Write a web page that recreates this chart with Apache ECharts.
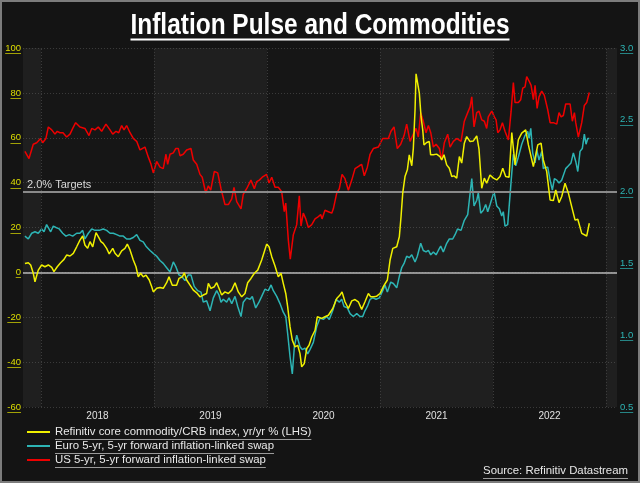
<!DOCTYPE html>
<html><head><meta charset="utf-8">
<script src="https://cdn.jsdelivr.net/npm/echarts@6.0.0/dist/echarts.min.js"></script>
<style>html,body{margin:0;padding:0;background:#141414;}#c{width:640px;height:483px;}</style>
</head><body><div id="c"></div>
<script>
// ---- data (decimal year, value) ----
const yearLabelPos = [2018.5, 2019.5, 2020.5, 2021.5, 2022.5];
const yearBounds = [2018, 2019, 2020, 2021, 2022, 2023];
const shadedYears = [[2017.841, 2018], [2019, 2020], [2021, 2022], [2023, 2023.097]];
const leftTicks = [100, 80, 60, 40, 20, 0, -20, -40, -60];
const rightTicks = [3.0, 2.5, 2.0, 1.5, 1.0, 0.5];
const targetLevel = 2.0;
const seriesNames = ['Refinitiv core commodity/CRB index, yr/yr % (LHS)', 'Euro 5-yr, 5-yr forward inflation-linked swap', 'US 5-yr, 5-yr forward inflation-linked swap'];

const crb = [[2017.858,4.0],[2017.888,4.3],[2017.909,3.3],[2017.932,-0.4],[2017.947,-4.2],[2017.962,-3.4],[2017.976,1.0],[2018.006,3.3],[2018.035,2.5],[2018.065,3.3],[2018.095,2.2],[2018.115,0.3],[2018.144,2.5],[2018.174,4.3],[2018.204,5.8],[2018.227,7.7],[2018.257,7.3],[2018.286,8.5],[2018.316,11.4],[2018.345,14.4],[2018.369,16.2],[2018.389,12.2],[2018.413,10.7],[2018.434,13.7],[2018.458,11.4],[2018.487,17.7],[2018.507,15.9],[2018.531,13.7],[2018.551,12.9],[2018.581,10.7],[2018.604,8.2],[2018.635,10.7],[2018.655,8.5],[2018.684,7.0],[2018.714,9.6],[2018.743,10.7],[2018.764,12.6],[2018.788,10.0],[2018.817,5.5],[2018.841,2.5],[2018.861,-2.0],[2018.882,-0.4],[2018.905,-2.0],[2018.929,-1.2],[2018.958,-3.4],[2018.980,-6.4],[2018.994,-8.7],[2019.024,-7.1],[2019.053,-6.7],[2019.082,-7.1],[2019.112,-4.6],[2019.133,-2.0],[2019.162,-5.7],[2019.200,-5.7],[2019.221,-2.7],[2019.251,-2.0],[2019.268,-0.2],[2019.289,-3.4],[2019.319,-5.7],[2019.348,-7.9],[2019.378,-9.1],[2019.407,-10.9],[2019.436,-10.1],[2019.466,-9.4],[2019.481,-4.9],[2019.504,-7.1],[2019.534,-6.4],[2019.555,-4.6],[2019.575,-7.1],[2019.599,-10.1],[2019.628,-8.7],[2019.658,-9.4],[2019.688,-7.9],[2019.717,-4.6],[2019.746,-8.7],[2019.776,-10.9],[2019.805,-9.4],[2019.829,-4.6],[2019.858,-2.7],[2019.888,-0.4],[2019.918,1.0],[2019.953,5.5],[2019.976,9.2],[2019.997,12.6],[2020.018,11.4],[2020.042,7.0],[2020.071,2.8],[2020.100,-2.0],[2020.124,-0.4],[2020.144,-4.9],[2020.166,-9.4],[2020.183,-15.4],[2020.204,-24.3],[2020.224,-30.2],[2020.248,-33.2],[2020.272,-32.5],[2020.292,-36.2],[2020.307,-42.1],[2020.330,-40.6],[2020.352,-33.9],[2020.372,-32.5],[2020.396,-28.8],[2020.425,-25.8],[2020.445,-19.8],[2020.484,-20.5],[2020.513,-19.8],[2020.543,-19.1],[2020.582,-16.1],[2020.617,-11.6],[2020.646,-10.1],[2020.664,-8.7],[2020.690,-13.1],[2020.720,-16.1],[2020.750,-12.7],[2020.779,-12.1],[2020.808,-13.1],[2020.838,-16.5],[2020.867,-13.1],[2020.897,-9.4],[2020.918,-10.9],[2020.947,-10.9],[2020.971,-10.6],[2021.000,-9.4],[2021.029,-6.4],[2021.065,-3.4],[2021.089,5.5],[2021.113,10.7],[2021.148,11.4],[2021.171,15.9],[2021.186,24.8],[2021.201,35.3],[2021.221,42.7],[2021.242,45.7],[2021.259,52.4],[2021.281,47.5],[2021.295,55.4],[2021.310,72.5],[2021.319,88.5],[2021.330,88.1],[2021.348,79.9],[2021.363,69.5],[2021.378,63.5],[2021.389,56.8],[2021.413,57.9],[2021.436,58.3],[2021.448,52.4],[2021.472,52.4],[2021.501,52.7],[2021.531,51.6],[2021.546,50.1],[2021.566,52.4],[2021.590,47.9],[2021.613,46.4],[2021.635,42.7],[2021.655,43.0],[2021.679,42.0],[2021.702,51.6],[2021.723,48.7],[2021.746,57.6],[2021.767,60.5],[2021.797,58.3],[2021.826,58.6],[2021.856,60.8],[2021.876,54.9],[2021.900,37.5],[2021.923,42.0],[2021.944,39.7],[2021.973,43.4],[2022.003,42.0],[2022.033,41.2],[2022.062,42.7],[2022.086,46.4],[2022.112,42.7],[2022.142,42.4],[2022.166,62.3],[2022.195,47.9],[2022.224,59.1],[2022.254,62.1],[2022.289,63.5],[2022.313,56.8],[2022.357,47.1],[2022.396,56.8],[2022.425,57.6],[2022.445,50.1],[2022.475,44.9],[2022.505,32.3],[2022.534,32.0],[2022.555,36.7],[2022.584,31.1],[2022.608,33.8],[2022.637,39.7],[2022.667,35.3],[2022.690,30.5],[2022.726,23.3],[2022.750,23.7],[2022.785,17.4],[2022.829,16.2],[2022.852,21.9]];

const euro = [[2017.858,1.69],[2017.888,1.67],[2017.918,1.71],[2017.947,1.72],[2017.976,1.71],[2018.006,1.74],[2018.027,1.72],[2018.050,1.77],[2018.065,1.76],[2018.086,1.72],[2018.109,1.76],[2018.133,1.75],[2018.162,1.74],[2018.192,1.71],[2018.221,1.69],[2018.250,1.70],[2018.281,1.69],[2018.316,1.71],[2018.345,1.71],[2018.369,1.73],[2018.389,1.67],[2018.419,1.71],[2018.449,1.74],[2018.478,1.73],[2018.516,1.73],[2018.551,1.74],[2018.581,1.73],[2018.611,1.71],[2018.640,1.71],[2018.670,1.70],[2018.699,1.69],[2018.728,1.69],[2018.758,1.67],[2018.788,1.67],[2018.817,1.68],[2018.847,1.70],[2018.876,1.66],[2018.905,1.65],[2018.929,1.62],[2018.965,1.59],[2018.994,1.57],[2019.024,1.55],[2019.053,1.52],[2019.082,1.50],[2019.112,1.47],[2019.142,1.44],[2019.171,1.51],[2019.192,1.48],[2019.221,1.42],[2019.245,1.41],[2019.274,1.38],[2019.304,1.42],[2019.327,1.42],[2019.356,1.34],[2019.387,1.31],[2019.416,1.30],[2019.436,1.23],[2019.466,1.24],[2019.496,1.17],[2019.525,1.26],[2019.555,1.31],[2019.575,1.28],[2019.593,1.23],[2019.613,1.25],[2019.643,1.23],[2019.664,1.26],[2019.688,1.22],[2019.717,1.27],[2019.741,1.20],[2019.770,1.13],[2019.790,1.23],[2019.820,1.26],[2019.850,1.25],[2019.870,1.27],[2019.900,1.19],[2019.929,1.23],[2019.953,1.27],[2019.982,1.32],[2020.012,1.31],[2020.036,1.35],[2020.056,1.31],[2020.086,1.27],[2020.115,1.22],[2020.144,1.16],[2020.166,1.13],[2020.183,1.01],[2020.204,0.85],[2020.224,0.73],[2020.242,0.92],[2020.263,1.00],[2020.277,1.01],[2020.292,0.92],[2020.312,0.90],[2020.336,0.91],[2020.360,0.87],[2020.380,0.90],[2020.410,0.95],[2020.440,1.06],[2020.469,1.12],[2020.499,1.11],[2020.529,1.13],[2020.551,1.11],[2020.581,1.17],[2020.611,1.25],[2020.640,1.23],[2020.661,1.25],[2020.682,1.20],[2020.711,1.19],[2020.735,1.15],[2020.764,1.13],[2020.794,1.15],[2020.823,1.13],[2020.847,1.13],[2020.867,1.17],[2020.888,1.20],[2020.912,1.25],[2020.935,1.26],[2020.965,1.25],[2020.994,1.26],[2021.024,1.31],[2021.044,1.35],[2021.065,1.30],[2021.095,1.37],[2021.118,1.36],[2021.148,1.33],[2021.171,1.41],[2021.192,1.47],[2021.213,1.50],[2021.236,1.55],[2021.259,1.54],[2021.281,1.56],[2021.310,1.51],[2021.330,1.55],[2021.360,1.64],[2021.383,1.59],[2021.407,1.58],[2021.428,1.59],[2021.449,1.56],[2021.472,1.58],[2021.496,1.56],[2021.516,1.59],[2021.537,1.62],[2021.560,1.58],[2021.590,1.64],[2021.613,1.67],[2021.643,1.67],[2021.664,1.70],[2021.686,1.74],[2021.717,1.73],[2021.746,1.80],[2021.776,1.84],[2021.790,1.85],[2021.812,2.09],[2021.832,1.90],[2021.856,1.94],[2021.870,1.99],[2021.891,1.85],[2021.914,1.87],[2021.935,1.91],[2021.953,1.86],[2021.974,1.91],[2021.989,1.92],[2022.009,2.00],[2022.033,1.90],[2022.056,1.88],[2022.077,1.83],[2022.091,1.86],[2022.106,1.76],[2022.130,1.77],[2022.144,1.77],[2022.166,2.13],[2022.180,2.26],[2022.201,2.18],[2022.224,2.24],[2022.254,2.33],[2022.283,2.39],[2022.307,2.42],[2022.319,2.37],[2022.334,2.44],[2022.351,2.27],[2022.372,2.20],[2022.387,2.29],[2022.407,2.22],[2022.431,2.28],[2022.445,2.16],[2022.466,2.17],[2022.484,2.17],[2022.505,2.08],[2022.525,2.01],[2022.543,2.09],[2022.564,2.08],[2022.584,2.06],[2022.608,2.08],[2022.622,2.09],[2022.643,2.16],[2022.667,2.18],[2022.690,2.20],[2022.711,2.27],[2022.732,2.21],[2022.750,2.14],[2022.770,2.28],[2022.790,2.30],[2022.808,2.40],[2022.823,2.33],[2022.838,2.37],[2022.852,2.37]];

const us = [[2017.858,2.28],[2017.894,2.23],[2017.932,2.33],[2017.962,2.34],[2017.997,2.37],[2018.015,2.34],[2018.044,2.37],[2018.065,2.45],[2018.095,2.43],[2018.124,2.40],[2018.144,2.42],[2018.168,2.41],[2018.195,2.41],[2018.227,2.38],[2018.257,2.40],[2018.281,2.44],[2018.307,2.48],[2018.345,2.45],[2018.389,2.44],[2018.425,2.39],[2018.449,2.44],[2018.478,2.43],[2018.507,2.45],[2018.537,2.42],[2018.575,2.47],[2018.611,2.43],[2018.635,2.40],[2018.664,2.42],[2018.688,2.41],[2018.714,2.46],[2018.735,2.43],[2018.758,2.46],[2018.788,2.41],[2018.817,2.37],[2018.847,2.35],[2018.876,2.29],[2018.920,2.31],[2018.950,2.24],[2018.974,2.19],[2018.994,2.13],[2019.024,2.21],[2019.053,2.17],[2019.082,2.16],[2019.106,2.26],[2019.121,2.19],[2019.142,2.26],[2019.171,2.27],[2019.192,2.30],[2019.215,2.30],[2019.230,2.25],[2019.259,2.26],[2019.289,2.29],[2019.327,2.30],[2019.348,2.22],[2019.378,2.19],[2019.407,2.12],[2019.427,2.10],[2019.458,1.99],[2019.481,2.04],[2019.502,2.01],[2019.534,2.14],[2019.564,2.13],[2019.593,2.02],[2019.628,1.91],[2019.658,1.91],[2019.688,1.95],[2019.708,2.03],[2019.732,1.93],[2019.770,1.88],[2019.790,1.98],[2019.820,2.02],[2019.858,2.08],[2019.888,2.02],[2019.909,2.07],[2019.932,2.08],[2019.958,2.10],[2019.997,2.12],[2020.018,2.06],[2020.042,2.10],[2020.071,2.03],[2020.100,2.03],[2020.130,2.00],[2020.153,1.86],[2020.166,1.92],[2020.189,1.66],[2020.206,1.53],[2020.233,1.70],[2020.263,1.77],[2020.286,1.97],[2020.301,1.76],[2020.321,1.85],[2020.343,1.81],[2020.366,1.75],[2020.396,1.77],[2020.425,1.81],[2020.445,1.82],[2020.475,1.84],[2020.487,1.81],[2020.513,1.87],[2020.543,1.86],[2020.573,1.85],[2020.587,1.88],[2020.617,1.99],[2020.640,2.02],[2020.664,2.12],[2020.690,2.09],[2020.720,2.01],[2020.750,2.08],[2020.779,2.16],[2020.817,2.18],[2020.838,2.19],[2020.861,2.11],[2020.888,2.17],[2020.912,2.26],[2020.941,2.30],[2020.985,2.31],[2021.024,2.37],[2021.074,2.37],[2021.097,2.42],[2021.124,2.45],[2021.153,2.30],[2021.183,2.33],[2021.213,2.39],[2021.236,2.47],[2021.266,2.35],[2021.295,2.40],[2021.319,2.44],[2021.339,2.38],[2021.360,2.55],[2021.383,2.49],[2021.407,2.41],[2021.428,2.46],[2021.449,2.41],[2021.472,2.31],[2021.496,2.33],[2021.525,2.30],[2021.546,2.22],[2021.569,2.34],[2021.599,2.40],[2021.620,2.31],[2021.649,2.35],[2021.679,2.37],[2021.717,2.35],[2021.746,2.49],[2021.776,2.55],[2021.797,2.59],[2021.812,2.66],[2021.832,2.45],[2021.856,2.55],[2021.876,2.56],[2021.900,2.50],[2021.923,2.49],[2021.944,2.44],[2021.958,2.52],[2021.989,2.56],[2022.012,2.52],[2022.027,2.50],[2022.042,2.41],[2022.062,2.43],[2022.083,2.48],[2022.106,2.42],[2022.136,2.36],[2022.160,2.56],[2022.180,2.76],[2022.195,2.62],[2022.224,2.62],[2022.245,2.64],[2022.263,2.72],[2022.283,2.73],[2022.298,2.80],[2022.319,2.77],[2022.337,2.74],[2022.357,2.64],[2022.372,2.74],[2022.390,2.58],[2022.407,2.66],[2022.431,2.70],[2022.454,2.67],[2022.484,2.57],[2022.505,2.48],[2022.534,2.48],[2022.564,2.47],[2022.584,2.55],[2022.602,2.52],[2022.622,2.53],[2022.643,2.61],[2022.682,2.61],[2022.702,2.49],[2022.720,2.55],[2022.732,2.48],[2022.755,2.38],[2022.785,2.48],[2022.808,2.60],[2022.829,2.62],[2022.852,2.69]];

// ---- styling ----
const SANS = '"Liberation Sans",Arial,sans-serif';
const C_Y = '#f0f000', C_T = '#2db4b4', C_R = '#ee0000';
const C_YL = '#dede00';
const ctx = document.createElement('canvas').getContext('2d');
function tw(font, t) { ctx.font = font; return ctx.measureText(t).width; }

const titleText = 'Inflation Pulse and Commodities';
const titleFont = 'bold 29px ' + SANS;
const titleScale = 379 / tw(titleFont, titleText);
const legSize = 11.4;
const legFont = legSize + 'px ' + SANS;
const sourceText = 'Source: Refinitiv Datastream';
const srcFont = '11.4px ' + SANS;
const sourceW = tw(srcFont, sourceText);
const axFont = '9.5px ' + SANS;

const legendRows = [432, 446, 460];
const graphics = [
  { type: 'rect', shape: { x: 1, y: 1, width: 638, height: 481 }, style: { fill: 'none', stroke: '#7c7c7c', lineWidth: 2 }, silent: true, z: 100 },
  { type: 'text', x: 320, y: 26, scaleX: titleScale, style: { text: titleText, x: 0, y: 0, align: 'center', verticalAlign: 'middle', fill: '#ffffff', font: titleFont }, silent: true },
  { type: 'line', shape: { x1: 130.5, y1: 39.5, x2: 509.5, y2: 39.5 }, style: { stroke: '#ffffff', lineWidth: 2 }, silent: true },
  { type: 'text', style: { text: sourceText, x: 628, y: 471, align: 'right', verticalAlign: 'middle', fill: '#e8e8e8', font: srcFont }, silent: true },
  { type: 'line', shape: { x1: 628 - sourceW, y1: 478.5, x2: 628, y2: 478.5 }, style: { stroke: '#9a9a9a', lineWidth: 1 }, silent: true }
];
seriesNames.forEach((n, i) => {
  const w = tw(legFont, n);
  graphics.push({ type: 'line', shape: { x1: 55, y1: legendRows[i] + 7.5, x2: 55 + w, y2: legendRows[i] + 7.5 }, style: { stroke: '#9a9a9a', lineWidth: 1 }, silent: true });
});

const chart = echarts.init(document.getElementById('c'), null, { renderer: 'canvas' });
chart.setOption({
  backgroundColor: '#141414',
  animation: false,
  grid: { left: 23, right: 23, top: 48, bottom: 76, show: true, backgroundColor: '#161616', borderWidth: 0 },
  legend: {
    data: seriesNames, orient: 'vertical', left: 27, top: 425, itemGap: 0, padding: 0,
    icon: 'rect', itemWidth: 23, itemHeight: 2, selectedMode: false,
    textStyle: { color: '#e8e8e8', fontSize: legSize, fontFamily: SANS, lineHeight: 14 }
  },
  xAxis: {
    type: 'value', min: 2017.841, max: 2023.097,
    axisLine: { show: false }, axisTick: { show: false }, splitLine: { show: false },
    axisLabel: { customValues: yearLabelPos, formatter: v => String(Math.floor(v)), color: '#e0e0e0', fontSize: 10, fontFamily: SANS, margin: 4 }
  },
  yAxis: [
    { type: 'value', min: -60, max: 100, interval: 20, position: 'left',
      axisLine: { show: false }, axisTick: { show: false },
      splitLine: { show: true, lineStyle: { color: '#3a3a3a', type: [1, 2], width: 1 } },
      axisLabel: { color: C_YL, fontSize: 9.5, fontFamily: SANS, margin: 2 } },
    { type: 'value', min: 0.5, max: 3.0, interval: 0.5, position: 'right',
      axisLine: { show: false }, axisTick: { show: false }, splitLine: { show: false },
      axisLabel: { color: C_T, fontSize: 9.5, fontFamily: SANS, margin: 3, formatter: v => v.toFixed(1) } }
  ],
  graphic: graphics,
  series: [
    { name: seriesNames[2], type: 'line', yAxisIndex: 1, data: us, showSymbol: false, lineStyle: { color: C_R, width: 1.5 }, itemStyle: { color: C_R }, emphasis: { disabled: true }, z: 3,
      markArea: { silent: true, itemStyle: { color: 'rgba(255,255,255,0.04)' }, data: shadedYears.map(p => [{ xAxis: p[0] }, { xAxis: p[1] }]) },
      markLine: { silent: true, symbol: 'none', label: { show: false }, lineStyle: { color: '#3c3c3c', type: [1, 2], width: 1 }, data: yearBounds.map(y => ({ xAxis: y })) } },
    { name: seriesNames[1], type: 'line', yAxisIndex: 1, data: euro, showSymbol: false, lineStyle: { color: C_T, width: 1.5 }, itemStyle: { color: C_T }, emphasis: { disabled: true }, z: 4,
      markLine: { silent: true, symbol: 'none', lineStyle: { color: '#8a8a8a', type: 'solid', width: 2 },
        label: { show: true, position: 'insideStartTop', formatter: '2.0% Targets', color: '#d8d8d8', fontSize: 11, fontFamily: SANS, distance: [4, 1] },
        data: [{ yAxis: targetLevel }] } },
    { name: seriesNames[0], type: 'line', yAxisIndex: 0, data: crb, showSymbol: false, lineStyle: { color: C_Y, width: 1.5 }, itemStyle: { color: C_Y }, emphasis: { disabled: true }, z: 5,
      markLine: { silent: true, symbol: 'none', label: { show: false }, lineStyle: { color: '#b8b8b8', type: 'solid', width: 1.5 }, data: [{ yAxis: 0 }] } }
  ]
});

// underline the axis tick labels, positioned through the chart's own scales
const extra = [];
leftTicks.forEach(v => {
  const py = chart.convertToPixel({ yAxisIndex: 0 }, v);
  const w = tw(axFont, String(v));
  extra.push({ type: 'line', shape: { x1: 21 - w, y1: Math.round(py) + 5.5, x2: 21, y2: Math.round(py) + 5.5 }, style: { stroke: C_YL, lineWidth: 1, opacity: 0.7 }, silent: true });
});
rightTicks.forEach(v => {
  const py = chart.convertToPixel({ yAxisIndex: 1 }, v);
  const w = tw(axFont, v.toFixed(1));
  extra.push({ type: 'line', shape: { x1: 620, y1: Math.round(py) + 5.5, x2: 620 + w, y2: Math.round(py) + 5.5 }, style: { stroke: C_T, lineWidth: 1, opacity: 0.7 }, silent: true });
});
chart.setOption({ graphic: graphics.concat(extra) });
</script></body></html>
